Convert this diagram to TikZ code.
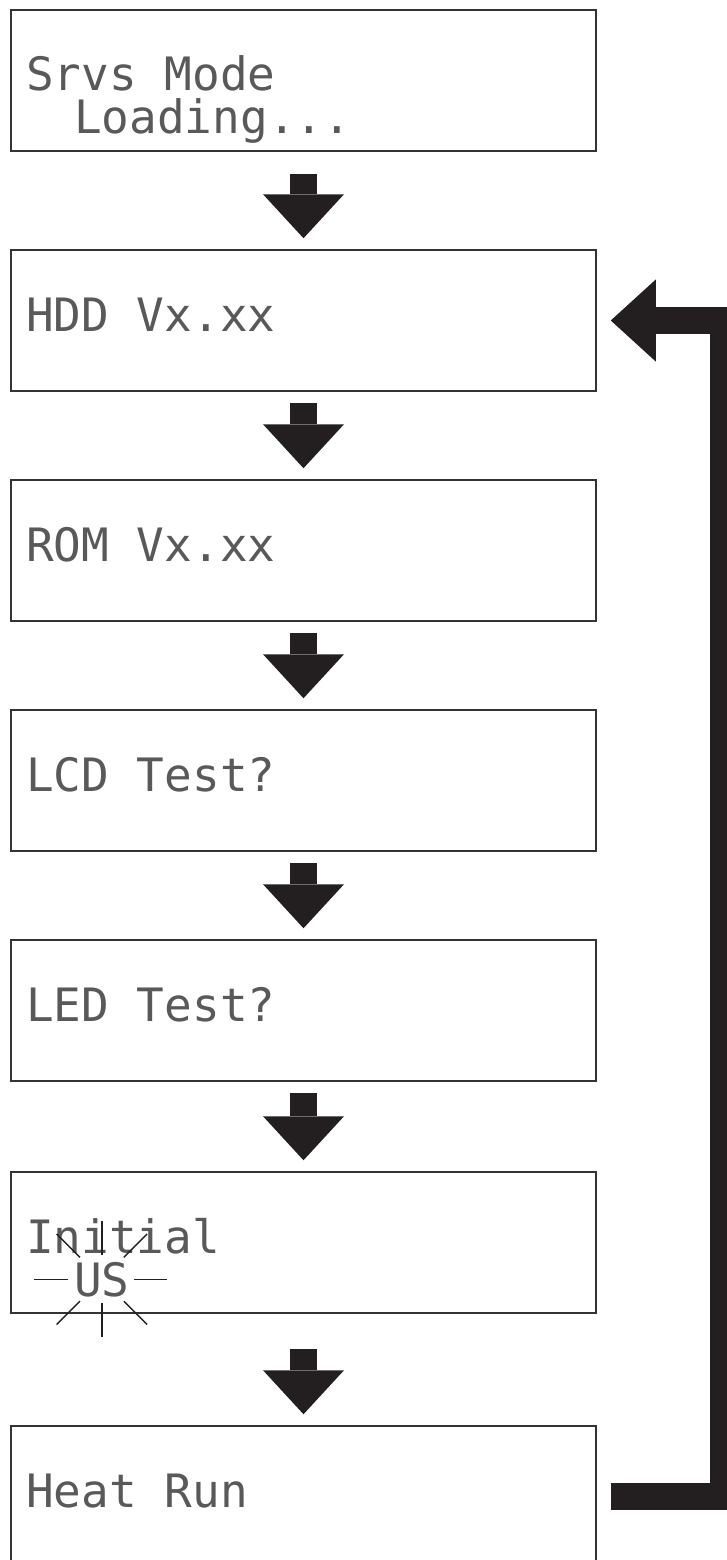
\documentclass[tikz,border=0pt]{standalone}
\usepackage{fontspec}
\setmonofont{DejaVu Sans Mono}
\usetikzlibrary{arrows.meta}
\definecolor{ink}{HTML}{231F20}
\tikzset{
	screen/.style = {shape=rectangle, draw=black!80, line width=1.5pt, minimum width=585pt, minimum height=141pt, inner sep=0pt},
	lcd/.style = {anchor=base west, inner sep=0pt, font=\ttfamily\fontsize{46}{47}\selectfont, text=black!65},
	flow/.style = {draw=ink, line width=27pt, -{Triangle[width=81pt, length=44pt, line width=0pt]}, shorten >=11pt},
	back/.style = {draw=ink, line width=27pt, line join=miter, -{Triangle[width=82pt, length=45pt, line width=0pt]}, shorten <=14pt, shorten >=14pt},
	spark/.style = {draw=ink, line width=1.5pt},
}
\begin{document}
\begin{tikzpicture}[x=1pt, y=-1pt]
	\useasboundingbox (0, 0) rectangle (726, 1560);

	\node[screen] (srvs) at (303.5, 80.5) {};
	\node[screen] (hdd) at (303.5, 320.5) {};
	\node[screen] (rom) at (303.5, 550.5) {};
	\node[screen] (lcdtest) at (303.5, 780.5) {};
	\node[screen] (ledtest) at (303.5, 1010.5) {};
	\node[screen] (init) at (303.5, 1242.5) {};
	\node[screen] (heat) at (303.5, 1496.5) {};

	\node[lcd] (srvs-l1) at (26, 91) {Srvs Mode};
	\node[lcd] (srvs-l2) at (74, 134) {Loading...};
	\node[lcd] (hdd-l1) at (26, 331) {HDD Vx.xx};
	\node[lcd] (rom-l1) at (26, 561) {ROM Vx.xx};
	\node[lcd] (lcdtest-l1) at (26, 791) {LCD Test?};
	\node[lcd] (ledtest-l1) at (26, 1021) {LED Test?};
	\node[lcd] (init-l1) at (26, 1253) {Initial};
	\node[lcd] (us) at (74, 1296) {US};
	\node[lcd] (heat-l1) at (26, 1507) {Heat Run};

	% blinking marks round the region
	\foreach \a/\ri/\ro in {0/32/65, 45/31/64, 90/24/58, 135/31/64, 180/34/68, 225/31/64, 270/24/58, 315/31/64}
		\draw[spark] ([shift={(\a:\ri)}]us.center) -- ([shift={(\a:\ro)}]us.center);

	\draw[flow, shorten <=22pt] (srvs) -- (hdd);
	\draw[flow, shorten <=11pt] (hdd) -- (rom);
	\draw[flow, shorten <=11pt] (rom) -- (lcdtest);
	\draw[flow, shorten <=11pt] (lcdtest) -- (ledtest);
	\draw[flow, shorten <=11pt] (ledtest) -- (init);
	\draw[flow, shorten <=35pt] (init) -- (heat);

	\draw[back] (heat.east) -- ++(127pt, 0) |- (hdd.east);
\end{tikzpicture}
\end{document}
